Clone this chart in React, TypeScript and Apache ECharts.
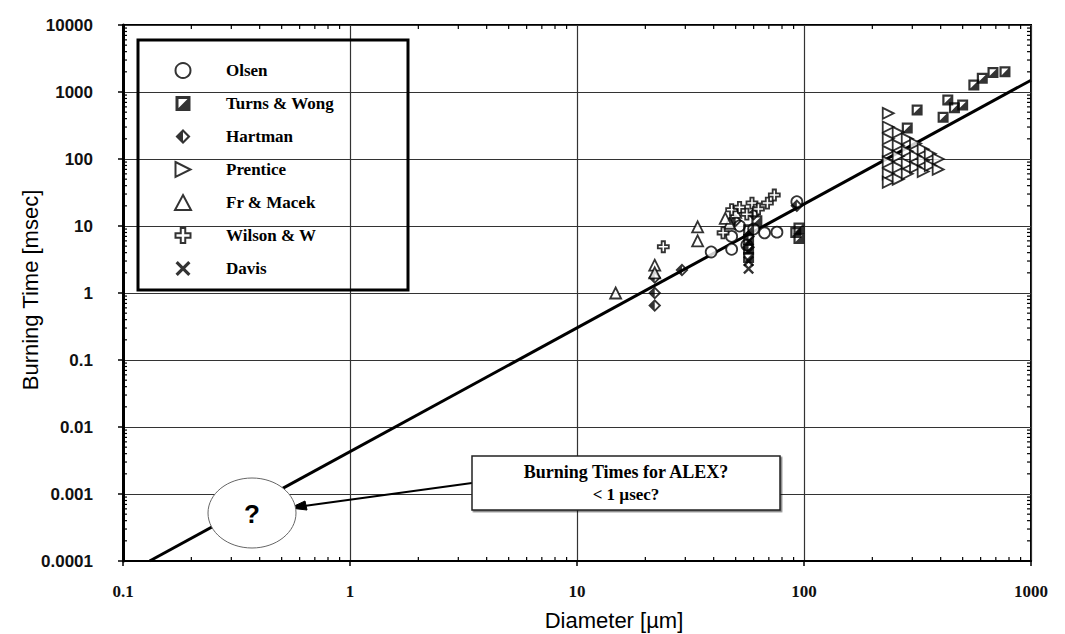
import React, { useEffect, useRef } from "react";
import * as echarts from "echarts";

// ---- data (diameter µm, burning time msec) ----
const olsen: number[][] = [
  [39, 4.1], [48, 4.5], [48, 7], [56, 5.2], [67, 7.9], [76, 8.1], [93, 23], [52, 10], [60, 9],
];
const turnsWong: number[][] = [
  [768, 2000], [680, 1950], [610, 1600], [560, 1270], [500, 640], [460, 580], [430, 760],
  [410, 420], [315, 540], [285, 290],
  [57, 8.8], [57, 6.3], [57, 4.5], [57, 3.4], [62, 12], [95, 9.3], [95, 6.5], [92, 8],
];
const hartman: number[][] = [
  [22, 1.7], [22, 1.0], [22, 0.65], [29, 2.2], [57, 7], [57, 4.8], [93, 20], [50, 12], [60, 15],
];
const prentice: number[][] = [
  [235, 480], [235, 300], [235, 200], [235, 130], [235, 90], [235, 60], [235, 45],
  [260, 250], [260, 160], [260, 110], [260, 75], [260, 50],
  [285, 200], [285, 130], [285, 85], [285, 60],
  [310, 170], [310, 110], [310, 75],
  [335, 140], [335, 95], [335, 65],
  [360, 120], [360, 80],
  [390, 100], [390, 70],
];
const frMacek: number[][] = [
  [14.8, 1.0], [22, 2.6], [22, 2.0], [34, 9.7], [34, 6], [47, 11], [50, 16], [45, 13],
];
const wilson: number[][] = [
  [24, 4.9], [74, 29], [69, 22], [59, 22], [48, 17.5], [52, 19], [44, 7.9], [56, 15], [63, 18],
];
const davis: number[][] = [
  [57, 2.3], [57, 3],
];
const fitLine: number[][] = [
  [0.131, 0.0001], [1000, 1500],
];

const seriesNames = ["Olsen", "Turns & Wong", "Hartman", "Prentice", "Fr & Macek", "Wilson & W", "Davis"];
const xDecades = [0.1, 1, 10, 100];
const yDecades = [0.0001, 0.001, 0.01, 0.1, 1, 10, 100, 1000];
const minorSteps = [2, 3, 4, 5, 6, 7, 8, 9];

// ---- symbols ----
const halfSquare =
  "path://M0 0 L10 0 L10 10 L0 10 Z M2 2 L2 8 L8 8 L8 2 Z M8 2 L8 8 L2 8 Z";
const halfDiamond =
  "path://M5 0 L10 5 L5 10 L0 5 Z M5 2 L2 5 L5 8 L8 5 Z M5 2 L5 8 L2 5 Z";
const rightTriangle = "path://M0 0 L10 5 L0 10 Z";
const plusShape =
  "path://M3.5 0 L6.5 0 L6.5 3.5 L10 3.5 L10 6.5 L6.5 6.5 L6.5 10 L3.5 10 L3.5 6.5 L0 6.5 L0 3.5 L3.5 3.5 Z";
const xShape =
  "path://M0 1.5 L1.5 0 L5 3.5 L8.5 0 L10 1.5 L6.5 5 L10 8.5 L8.5 10 L5 6.5 L1.5 10 L0 8.5 L3.5 5 Z";

const SERIF = "'Liberation Serif', 'Times New Roman', serif";
const SANS = "'Liberation Sans', Arial, sans-serif";

function fmt(v: number): string {
  return String(Number(v.toPrecision(1)));
}

export default function App() {
  const ref = useRef<HTMLDivElement>(null);
  useEffect(() => {
    if (!ref.current) return;
    const chart = echarts.init(ref.current, undefined, { renderer: "svg" });

    const xMinor: number[][] = [];
    xDecades.forEach((d) => minorSteps.forEach((m) => xMinor.push([d * m, 1])));
    const yMinor: number[][] = [];
    yDecades.forEach((d) => minorSteps.forEach((m) => yMinor.push([1, d * m])));

    const outline = { color: "#fff", borderColor: "#000", borderWidth: 1.8 };
    const solid = { color: "#000", borderWidth: 0 };

    const scatter = (name: string, data: number[][], symbol: string, itemStyle: any, size: any = 11) => ({
      name,
      type: "scatter",
      data,
      symbol,
      symbolSize: size,
      itemStyle,
      z: 5,
    });

    chart.setOption({
      animation: false,
      backgroundColor: "#fff",
      grid: {
        left: 123, top: 25, right: 34, bottom: 73,
        show: true, borderColor: "#000", borderWidth: 2,
      },
      xAxis: {
        type: "log", logBase: 10, min: 0.1, max: 1000,
        axisLine: { show: true, lineStyle: { color: "#000", width: 2 } },
        axisTick: { show: true, length: 5, lineStyle: { color: "#000", width: 1.5 } },
        splitLine: { show: true, lineStyle: { color: "#333", width: 1.2 } },
        axisLabel: {
          formatter: (v: number) => fmt(v),
          fontFamily: SERIF, fontWeight: "bold", fontSize: 17, color: "#111", margin: 22,
        },
      },
      yAxis: {
        type: "log", logBase: 10, min: 0.0001, max: 10000,
        axisLine: { show: true, lineStyle: { color: "#000", width: 3 } },
        axisTick: { show: true, length: 5, lineStyle: { color: "#000", width: 1.5 } },
        splitLine: { show: true, lineStyle: { color: "#333", width: 1.2 } },
        axisLabel: {
          formatter: (v: number) => fmt(v),
          fontFamily: SANS, fontWeight: "bold", fontSize: 17, color: "#111", margin: 30,
        },
      },
      legend: {
        orient: "vertical", left: 169, top: 57,
        itemWidth: 16, itemHeight: 15, itemGap: 16,
        selectedMode: false,
        data: seriesNames,
        textStyle: {
          fontFamily: SERIF, fontWeight: "bold", fontSize: 17, color: "#000",
          padding: [0, 0, 0, 30],
        },
      },
      series: [
        {
          name: "fit", type: "line", data: fitLine, symbol: "none",
          lineStyle: { color: "#000", width: 3 }, z: 3, silent: true,
        },
        scatter(seriesNames[0], olsen, "circle", outline),
        scatter(seriesNames[1], turnsWong, halfSquare, solid),
        scatter(seriesNames[2], hartman, halfDiamond, solid, 13),
        scatter(seriesNames[3], prentice, rightTriangle, outline),
        scatter(seriesNames[4], frMacek, "triangle", outline),
        scatter(seriesNames[5], wilson, plusShape, outline),
        scatter(seriesNames[6], davis, xShape, solid),
        {
          name: "xminor", type: "custom", data: xMinor, encode: { x: 0, y: 1 }, silent: true, z: 6,
          renderItem: (params: any, api: any) => {
            const x = api.coord([api.value(0), 1])[0];
            const cs = params.coordSys;
            const yb = cs.y + cs.height;
            const yt = cs.y;
            return {
              type: "group",
              children: [
                { type: "line", shape: { x1: x, y1: yb, x2: x, y2: yb - 4 }, style: { stroke: "#000", lineWidth: 1.2 } },
                { type: "line", shape: { x1: x, y1: yt, x2: x, y2: yt + 4 }, style: { stroke: "#000", lineWidth: 1.2 } },
              ],
            };
          },
        },
        {
          name: "yminor", type: "custom", data: yMinor, encode: { x: 0, y: 1 }, silent: true, z: 6,
          renderItem: (params: any, api: any) => {
            const y = api.coord([1, api.value(1)])[1];
            const cs = params.coordSys;
            const xl = cs.x;
            const xr = cs.x + cs.width;
            return {
              type: "group",
              children: [
                { type: "line", shape: { x1: xl, y1: y, x2: xl + 4, y2: y }, style: { stroke: "#000", lineWidth: 1.2 } },
                { type: "line", shape: { x1: xr, y1: y, x2: xr - 4, y2: y }, style: { stroke: "#000", lineWidth: 1.2 } },
              ],
            };
          },
        },
      ],
      graphic: [
        {
          type: "rect", z: 10,
          shape: { x: 138, y: 40, width: 270, height: 250 },
          style: { fill: "none", stroke: "#000", lineWidth: 3 },
        },
        {
          type: "line", z: 10,
          shape: { x1: 472, y1: 483, x2: 304, y2: 506 },
          style: { stroke: "#000", lineWidth: 2 },
        },
        {
          type: "polygon", z: 10,
          shape: { points: [[290, 508], [307, 510], [305, 501]] },
          style: { fill: "#000", stroke: "#000", lineWidth: 1 },
        },
        {
          type: "rect", z: 10,
          shape: { x: 472, y: 456, width: 308, height: 54 },
          style: { fill: "#fff", stroke: "#222", lineWidth: 1.5, shadowColor: "rgba(0,0,0,0.5)", shadowOffsetX: 1.5, shadowOffsetY: 1.5 },
        },
        {
          type: "text", z: 11, x: 626, y: 472,
          style: {
            text: "Burning Times for ALEX?", align: "center", verticalAlign: "middle",
            font: `bold 18px ${SERIF}`, fill: "#000",
          },
        },
        {
          type: "text", z: 11, x: 626, y: 494,
          style: {
            text: "< 1 µsec?", align: "center", verticalAlign: "middle",
            font: `bold 17px ${SERIF}`, fill: "#000",
          },
        },
        {
          type: "ellipse", z: 10,
          shape: { cx: 252, cy: 513, rx: 44, ry: 35 },
          style: { fill: "#fff", stroke: "#666", lineWidth: 1 },
        },
        {
          type: "text", z: 11, x: 252, y: 514,
          style: {
            text: "?", align: "center", verticalAlign: "middle",
            font: `bold 26px ${SANS}`, fill: "#000",
          },
        },
        {
          type: "text", z: 11, x: 30, y: 290, rotation: Math.PI / 2,
          style: {
            text: "Burning Time [msec]", align: "center", verticalAlign: "middle",
            font: `22px ${SANS}`, fill: "#000",
          },
        },
        {
          type: "text", z: 11, x: 614, y: 620,
          style: {
            text: "Diameter [µm]", align: "center", verticalAlign: "middle",
            font: `22px ${SANS}`, fill: "#000",
          },
        },
      ],
    });

    return () => chart.dispose();
  }, []);

  return (
    <div
      ref={ref}
      style={{ position: "fixed", left: 0, top: 0, width: 1065, height: 634 }}
    />
  );
}
